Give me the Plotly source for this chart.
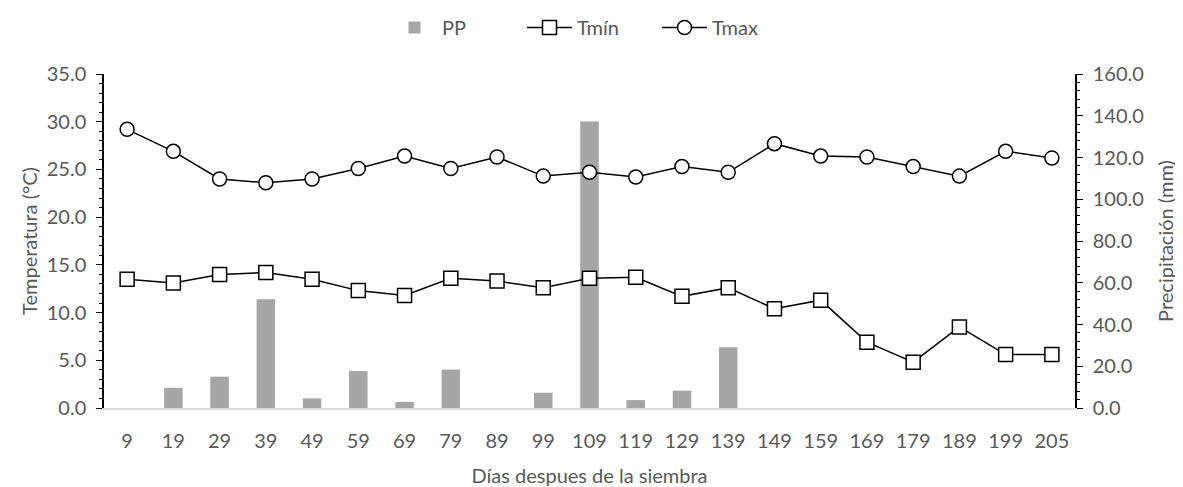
# Temperatura y precipitación vs días después de la siembra
import plotly.graph_objects as go

# datos
dias = ['9', '19', '29', '39', '49', '59', '69', '79', '89', '99', '109',
        '119', '129', '139', '149', '159', '169', '179', '189', '199', '205']
pp = [0, 9.7, 15.0, 52.1, 4.6, 17.7, 2.9, 18.4, 0, 7.3, 137.3,
      3.8, 8.3, 29.1, 0, 0, 0, 0, 0, 0, 0]
tmin = [13.5, 13.1, 14.0, 14.2, 13.5, 12.3, 11.8, 13.6, 13.3, 12.6, 13.6,
        13.7, 11.7, 12.6, 10.4, 11.3, 6.9, 4.8, 8.5, 5.6, 5.6]
tmax = [29.2, 26.9, 24.0, 23.6, 24.0, 25.1, 26.4, 25.1, 26.3, 24.3, 24.7,
        24.2, 25.3, 24.7, 27.7, 26.4, 26.3, 25.3, 24.3, 26.9, 26.2]

gris = '#595959'
fuente = dict(family='Lato', size=20, color=gris)

fig = go.Figure()

# barras en el eje de precipitación (derecha)
fig.add_trace(go.Bar(x=dias, y=pp, name='PP',
                     marker=dict(color='#a6a6a6', line=dict(width=0)),
                     yaxis='y'))

# líneas en el eje de temperatura (izquierda), dibujadas encima
for nombre, valores, simbolo in [('Tmín', tmin, 'square'), ('Tmax', tmax, 'circle')]:
    fig.add_trace(go.Scatter(
        x=dias, y=valores, name=nombre, yaxis='y2', mode='lines+markers',
        line=dict(color='black', width=1.5),
        marker=dict(symbol=simbolo, size=14, color='white',
                    line=dict(color='black', width=1.5)),
    ))

# la página tiene 8 px de margen del navegador: se compensa aquí
fig.update_layout(
    template='none',
    width=1175, height=479,
    margin=dict(l=96, r=108, t=66, b=79, autoexpand=False),
    paper_bgcolor='white', plot_bgcolor='white',
    font=fuente,
    bargap=0.6,
    showlegend=True,
    legend=dict(orientation='h', x=0.5, xanchor='center',
                yref='container', y=1.0, yanchor='top',
                font=fuente, traceorder='normal',
                itemwidth=45, entrywidth=75),
    xaxis=dict(
        type='category', range=[-0.5, len(dias) - 0.5],
        showgrid=False, showline=True, linecolor='#d9d9d9',
        linewidth=1.5, ticks='', tickfont=fuente, automargin=False,
        ticklabelstandoff=14,
        title=dict(text='Días despues de la siembra', font=fuente, standoff=21),
    ),
    yaxis=dict(
        side='right', range=[0, 160], dtick=20, tickformat='.1f',
        showgrid=False, zeroline=False, showline=True, linecolor='black',
        linewidth=1.5, ticks='outside', ticklen=6, tickcolor='black',
        minor=dict(ticks='outside', ticklen=3, dtick=4, tickcolor='black'),
        tickfont=fuente, automargin=False, ticklabelstandoff=6,
        title=dict(text='Precipitación (mm)', font=fuente, standoff=16),
    ),
    yaxis2=dict(
        overlaying='y', side='left', range=[0, 35], dtick=5, tickformat='.1f',
        showgrid=False, zeroline=False, showline=True, linecolor='black',
        linewidth=1.5, ticks='outside', ticklen=6, tickcolor='black',
        minor=dict(ticks='outside', ticklen=3, dtick=1, tickcolor='black'),
        tickfont=fuente, automargin=False, ticklabelstandoff=6,
        title=dict(text='Temperatura (°C)', font=fuente, standoff=4),
    ),
)

fig.write_html('out.html')
